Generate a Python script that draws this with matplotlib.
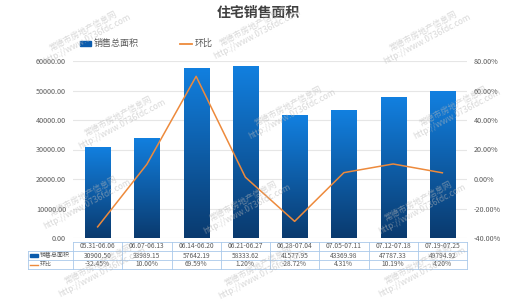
import numpy as np
import matplotlib
matplotlib.use('Agg')
from matplotlib import pyplot as plt
from matplotlib import transforms
from matplotlib.colors import LinearSegmentedColormap
from matplotlib.lines import Line2D
from matplotlib.patches import Rectangle

plt.rcParams['font.family'] = ['Noto Sans CJK SC', 'DejaVu Sans']

weeks = ['05.31-06.06', '06.07-06.13', '06.14-06.20', '06.21-06.27',
         '06.28-07.04', '07.05-07.11', '07.12-07.18', '07.19-07.25']
area = [30900.50, 33989.15, 57642.19, 58333.62, 41577.95, 43369.98, 47787.33, 49794.92]
ratio = [-32.45, 10.00, 69.59, 1.20, -28.72, 4.31, 10.19, 4.20]

W, H = 518, 307
fig = plt.figure(figsize=(W / 100, H / 100), dpi=100)
fig.patch.set_facecolor('white')

# plot area in pixels: left 73, right 467, top 61, bottom 238
ax = fig.add_axes([73 / W, 1 - 238 / H, (467 - 73) / W, (238 - 61) / H])
ax2 = ax.twinx()

grey = '#595959'
blue_top = '#1280e0'
blue_bot = '#0a3a6e'
orange = '#ed8a3c'

x = np.arange(len(weeks))
bars = ax.bar(x, area, width=0.51, color='none', edgecolor='none', zorder=2)
cmap = LinearSegmentedColormap.from_list('bar', [blue_bot, blue_top])
grad = np.linspace(0, 1, 256).reshape(-1, 1)
for b in bars:
    x0, w, h = b.get_x(), b.get_width(), b.get_height()
    im = ax.imshow(grad, extent=[x0, x0 + w, 0, h], origin='lower', cmap=cmap,
                   aspect='auto', zorder=2)
    im.set_clip_path(b)

ax.set_xlim(-0.5, len(weeks) - 0.5)
ax.set_ylim(0, 60000)
ax.set_yticks(np.arange(0, 60001, 10000))
ax.set_yticklabels(['%.2f' % v for v in np.arange(0, 60001, 10000)])
ax.grid(axis='y', color='#e6e6e6', linewidth=0.8, zorder=0)
ax.set_axisbelow(True)
ax.set_xticks([])

ax2.plot(x, ratio, color=orange, linewidth=1.1, zorder=3)
ax2.set_ylim(-40, 80)
ax2.set_yticks(np.arange(-40, 81, 20))
ax2.set_yticklabels(['%.2f%%' % v for v in np.arange(-40, 81, 20)])

for a in (ax, ax2):
    for s in a.spines.values():
        s.set_visible(False)
    a.tick_params(axis='y', length=0, labelsize=5.2, labelcolor=grey, pad=5)

# title and legend
fig.text(258 / W, 1 - 13 / H, '住宅销售面积', ha='center', va='center',
         fontsize=10, fontweight='bold', color='#404040')
fig.patches.append(Rectangle((80 / W, 1 - 46 / H), 11 / W, 5 / H,
                             transform=fig.transFigure, color='#0b5cad'))
fig.text(94 / W, 1 - 43.5 / H, '销售总面积', ha='left', va='center',
         fontsize=6.5, color=grey)
fig.lines.append(Line2D([180 / W, 192 / W], [1 - 43.5 / H] * 2,
                        transform=fig.transFigure, color=orange, linewidth=1.3))
fig.text(195 / W, 1 - 43.5 / H, '环比', ha='left', va='center',
         fontsize=6.5, color=grey)

# data table under the plot
tr = transforms.blended_transform_factory(ax.transData, fig.transFigure)
border = '#a9c9ea'
rows_px = [242, 251, 260, 269]
ry = [1 - r / H for r in rows_px]
n = len(weeks)
xl = -0.5
xr = n - 0.5
# label column extends to the left of the plot area
left_fig = 28 / W
fig.lines.append(Line2D([xl, xr], [ry[0], ry[0]], transform=tr, color=border, lw=0.6))
for yy in ry[1:]:
    fig.lines.append(Line2D([left_fig, 467 / W], [yy, yy],
                            transform=fig.transFigure, color=border, lw=0.6))
for i in range(n + 1):
    fig.lines.append(Line2D([i - 0.5, i - 0.5], [ry[0], ry[3]], transform=tr,
                            color=border, lw=0.6))
fig.lines.append(Line2D([left_fig, left_fig], [ry[1], ry[3]],
                        transform=fig.transFigure, color=border, lw=0.6))

for i in range(n):
    yc = [(ry[k] + ry[k + 1]) / 2 for k in range(3)]
    fig.text(x[i], yc[0], weeks[i], transform=tr, ha='center', va='center',
             fontsize=4.8, color=grey)
    fig.text(x[i], yc[1], '%.2f' % area[i], transform=tr, ha='center', va='center',
             fontsize=4.8, color=grey)
    fig.text(x[i], yc[2], '%.2f%%' % ratio[i], transform=tr, ha='center', va='center',
             fontsize=4.8, color=grey)

yc1 = (ry[1] + ry[2]) / 2
yc2 = (ry[2] + ry[3]) / 2
fig.patches.append(Rectangle((30 / W, yc1 - 1.5 / H), 8 / W, 3 / H,
                             transform=fig.transFigure, color='#0b5cad'))
fig.text(40 / W, yc1, '销售总面积', ha='left', va='center', fontsize=4.3, color=grey)
fig.lines.append(Line2D([30 / W, 38 / W], [yc2, yc2], transform=fig.transFigure,
                        color=orange, lw=1.0))
fig.text(40 / W, yc2, '环比', ha='left', va='center', fontsize=4.3, color=grey)

# site watermark
marks = [(85, 35), (255, 30), (425, 35), (120, 120), (290, 110), (455, 110),
         (85, 200), (245, 205), (420, 205), (100, 268), (260, 270), (420, 268)]
for mx, my in marks:
    fig.text(mx / W, 1 - my / H, '常德市房地产信息网\nhttp://www.0736fdc.com',
             ha='center', va='center', rotation=28, fontsize=6, color='#b8b8b8',
             alpha=0.55, linespacing=1.0, zorder=10)

fig.savefig('out.png', dpi=100)
